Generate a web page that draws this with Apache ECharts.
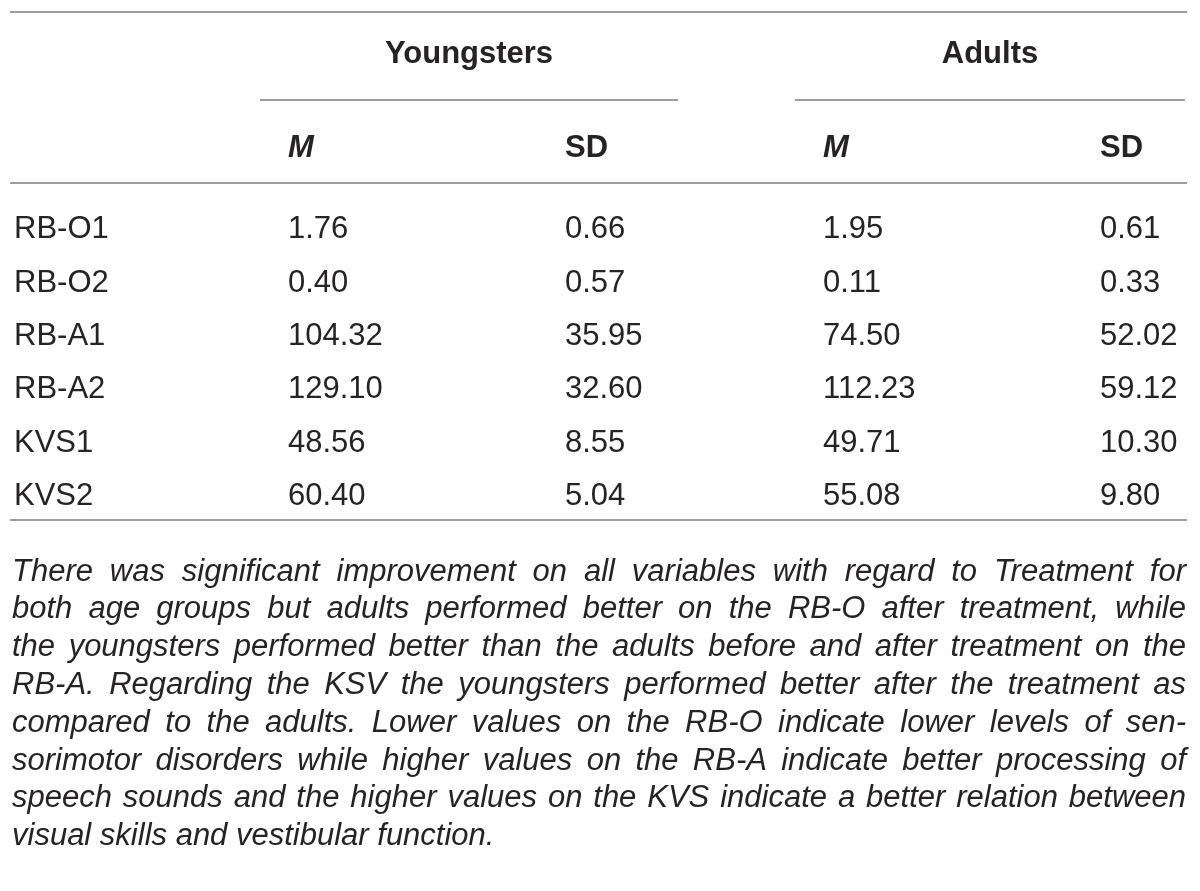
<!DOCTYPE html>
<html>
<head>
<meta charset="utf-8">
<script src="https://cdn.jsdelivr.net/npm/echarts@6/dist/echarts.min.js"></script>
<style>
html,body{margin:0;padding:0;background:#fff}
#main{width:1200px;height:891px}
</style>
</head>
<body>
<div id="main"></div>
<script>
// table data
var rows = ['RB-O1', 'RB-O2', 'RB-A1', 'RB-A2', 'KVS1', 'KVS2'];
var youngM = [1.76, 0.40, 104.32, 129.10, 48.56, 60.40];
var youngSD = [0.66, 0.57, 35.95, 32.60, 8.55, 5.04];
var adultM = [1.95, 0.11, 74.50, 112.23, 49.71, 55.08];
var adultSD = [0.61, 0.33, 52.02, 59.12, 10.30, 9.80];
var groups = ['Youngsters', 'Adults'];
var stats = ['M', 'SD', 'M', 'SD'];
var note = [
  'There was significant improvement on all variables with regard to Treatment for',
  'both age groups but adults performed better on the RB-O after treatment, while',
  'the youngsters performed better than the adults before and after treatment on the',
  'RB-A. Regarding the KSV the youngsters performed better after the treatment as',
  'compared to the adults. Lower values on the RB-O indicate lower levels of sen-',
  'sorimotor disorders while higher values on the RB-A indicate better processing of',
  'speech sounds and the higher values on the KVS indicate a better relation between',
  'visual skills and vestibular function.'
];

var FONT = 'Liberation Sans';
var INK = '#262324';
var RULE = '#9c9c9c';
var colX = [288, 565, 823, 1100];

var myChart = echarts.init(document.getElementById('main'));

function colSeries(vals, c) {
  return {
    type: 'scatter',
    symbolSize: 0,
    silent: true,
    itemStyle: { opacity: 1 },
    data: vals.map(function (v, i) { return [colX[c], rows[i], v]; }),
    label: {
      show: true,
      position: 'inside',
      align: 'left',
      verticalAlign: 'middle',
      color: INK,
      opacity: 1,
      fontFamily: FONT,
      fontSize: 31,
      formatter: function (p) { return p.value[2].toFixed(2); }
    }
  };
}

var graphic = [];
function rule(x1, x2, y) {
  graphic.push({ type: 'line', shape: { x1: x1, y1: y, x2: x2, y2: y }, style: { stroke: RULE, lineWidth: 2 } });
}
function txt(s, x, y, opt) {
  graphic.push({
    type: 'text', x: x, y: y,
    style: {
      text: s, fill: INK, fontFamily: FONT, fontSize: 31,
      fontWeight: opt.weight || 'normal', fontStyle: opt.style || 'normal',
      textAlign: opt.align || 'left', textVerticalAlign: 'middle'
    }
  });
}

rule(10, 1187, 12);
rule(260, 678, 100);
rule(795, 1185, 100);
rule(10, 1187, 183);
rule(10, 1187, 520);

txt(groups[0], 469, 54, { weight: 'bold', align: 'center' });
txt(groups[1], 990, 54, { weight: 'bold', align: 'center' });
stats.forEach(function (s, i) {
  txt(s, colX[i], 148, { weight: 'bold', style: s === 'M' ? 'italic' : 'normal' });
});

// caption, justified word by word
var ctx = document.createElement('canvas').getContext('2d');
ctx.font = 'italic 31px "' + FONT + '"';
var left = 12, right = 1186;
note.forEach(function (line, li) {
  var y = 572 + li * 37.8;
  var words = line.split(' ');
  if (li === note.length - 1) {
    txt(line, left, y, { style: 'italic' });
    return;
  }
  var w = words.map(function (s) { return ctx.measureText(s).width; });
  var sum = w.reduce(function (a, b) { return a + b; }, 0);
  var gap = (right - left - sum) / (words.length - 1);
  var x = left;
  words.forEach(function (s, k) {
    txt(s, x, y, { style: 'italic' });
    x += w[k] + gap;
  });
});

var option = {
  animation: false,
  grid: { left: 0, right: 0, top: 203, height: 320 },
  xAxis: { type: 'value', min: 0, max: 1200, show: false },
  yAxis: {
    type: 'category',
    inverse: true,
    data: rows,
    axisLine: { show: false },
    axisTick: { show: false },
    splitLine: { show: false },
    axisLabel: {
      inside: true,
      margin: 14,
      color: INK,
      fontFamily: FONT,
      fontSize: 31
    }
  },
  series: [
    colSeries(youngM, 0),
    colSeries(youngSD, 1),
    colSeries(adultM, 2),
    colSeries(adultSD, 3)
  ],
  graphic: graphic
};

myChart.setOption(option);
window.addEventListener('resize', function () {
  myChart.resize();
});
</script>
</body>
</html>
